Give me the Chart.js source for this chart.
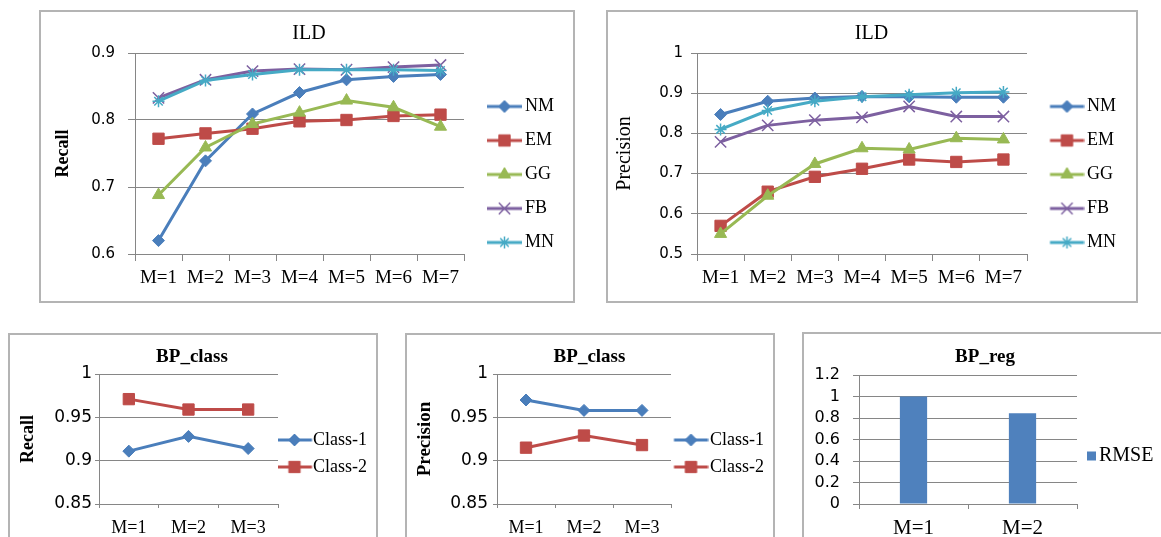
<!DOCTYPE html>
<html>
<head>
<meta charset="utf-8">
<title>ILD / BP results</title>
<script src="https://cdn.jsdelivr.net/npm/chart.js@4.4.1/dist/chart.umd.min.js"></script>
<style>
  html, body { margin: 0; padding: 0; background: #fff; overflow: hidden; }
  body { width: 1161px; height: 537px; position: relative; }
  .frame { position: absolute; box-sizing: border-box; border: 2px solid #b4b4b4; }
  canvas { position: absolute; }
</style>
</head>
<body>
<div class="frame" style="left:39px;top:10px;width:536px;height:293px"></div>
<div class="frame" style="left:606px;top:10px;width:532px;height:293px"></div>
<div class="frame" style="left:8px;top:333px;width:370px;height:240px"></div>
<div class="frame" style="left:405px;top:333px;width:370px;height:240px"></div>
<div class="frame" style="left:802px;top:332px;width:367px;height:240px"></div>

<canvas id="ildRecall" style="left:39px;top:10px" width="540" height="329"></canvas>
<canvas id="ildPrecision" style="left:606px;top:10px" width="531" height="329"></canvas>
<canvas id="bpRecall" style="left:8px;top:333px" width="368" height="241"></canvas>
<canvas id="bpPrecision" style="left:405px;top:333px" width="369" height="241"></canvas>
<canvas id="bpReg" style="left:802px;top:332px" width="366" height="248"></canvas>

<script>
// ---- data ----
const ildLabels = ['M=1', 'M=2', 'M=3', 'M=4', 'M=5', 'M=6', 'M=7'];
const ildSeries = ['NM', 'EM', 'GG', 'FB', 'MN'];

const recallNM = [0.620, 0.739, 0.809, 0.841, 0.860, 0.865, 0.868];
const recallEM = [0.772, 0.780, 0.787, 0.798, 0.800, 0.806, 0.808];
const recallGG = [0.688, 0.759, 0.794, 0.811, 0.829, 0.819, 0.790];
const recallFB = [0.833, 0.860, 0.873, 0.876, 0.875, 0.879, 0.882];
const recallMN = [0.828, 0.859, 0.868, 0.875, 0.875, 0.875, 0.874];

const precNM = [0.847, 0.880, 0.888, 0.892, 0.891, 0.890, 0.890];
const precEM = [0.570, 0.655, 0.692, 0.712, 0.735, 0.729, 0.735];
const precGG = [0.550, 0.645, 0.724, 0.763, 0.760, 0.788, 0.785];
const precFB = [0.779, 0.820, 0.833, 0.840, 0.867, 0.842, 0.842];
const precMN = [0.810, 0.857, 0.880, 0.891, 0.896, 0.901, 0.903];

const bpLabels = ['M=1', 'M=2', 'M=3'];
const bpSeries = ['Class-1', 'Class-2'];
const bpRecall1 = [0.911, 0.928, 0.914];
const bpRecall2 = [0.971, 0.959, 0.959];
const bpPrec1 = [0.970, 0.958, 0.958];
const bpPrec2 = [0.915, 0.929, 0.918];

const regLabels = ['M=1', 'M=2'];
const rmse = [1.0, 0.845];

// ---- look ----
const serif = '"Liberation Serif", "Times New Roman", serif';
const sans = '"DejaVu Sans", "Liberation Sans", sans-serif';
const gridColor = '#868686';

const look = {
  'NM':      { color: '#4a7ebb', style: 'rectRot',  radius: 6, bw: 1 },
  'EM':      { color: '#be4b48', style: 'rect',     radius: 8, bw: 1 },
  'GG':      { color: '#98b954', style: 'triangle', radius: 7, bw: 1 },
  'FB':      { color: '#7d60a0', style: 'crossRot', radius: 8, bw: 1.5 },
  'MN':      { color: '#46aac5', style: 'star',     radius: 6, bw: 1.5 },
  'Class-1': { color: '#4a7ebb', style: 'rectRot',  radius: 6, bw: 1 },
  'Class-2': { color: '#be4b48', style: 'rect',     radius: 8, bw: 1 }
};

Chart.defaults.color = '#000';
Chart.defaults.animation = false;

// Chart.js sizes the legend from its text; pin its width so the plot area
// ends up where the original one is
const pinLegend = {
  id: 'pinLegend',
  beforeLayout(chart, args, opts) {
    const lg = chart.legend;
    if (!lg || lg._pinned) return;
    const fit = lg.fit;
    lg.fit = function () { fit.call(this); this.width = opts.width; };
    lg._pinned = true;
  }
};

// excel style legend key: a short line with the marker on it (or a small box)
// from/to are measured from the start of the legend item, pw is pointStyleWidth
function legendIcon(s, from, to, pw, box) {
  const c = pw / 2;
  const h = Math.ceil(Math.max(c - from, to - c));
  const cv = document.createElement('canvas');
  cv.width = 2 * h;
  cv.height = 24;
  const ctx = cv.getContext('2d');
  const x0 = from - c + h, x1 = to - c + h;
  ctx.fillStyle = s.color;
  ctx.strokeStyle = s.color;
  if (box) {
    ctx.fillRect(x0, 12 - (x1 - x0) / 2, x1 - x0, x1 - x0);
    return cv;
  }
  ctx.lineWidth = 3;
  ctx.beginPath();
  ctx.moveTo(x0, 12);
  ctx.lineTo(x1, 12);
  ctx.stroke();
  ctx.lineWidth = s.bw;
  Chart.helpers.drawPoint(ctx, { pointStyle: s.style, radius: s.radius, borderWidth: s.bw, rotation: 0 }, (x0 + x1) / 2, 12);
  return cv;
}

function makeChart(id, type, labels, series, p) {
  const datasets = series.map((s, i) => {
    const st = s.look;
    return {
      label: s.name,
      data: s.data,
      order: series.length - i,
      borderColor: st.color,
      backgroundColor: st.color,
      borderWidth: type === 'line' ? 3 : 0,
      tension: 0,
      pointStyle: st.style,
      pointRadius: st.radius,
      pointBorderWidth: st.bw,
      pointBackgroundColor: st.color,
      pointBorderColor: st.color,
      barPercentage: 0.25,
      categoryPercentage: 1
    };
  });
  const icons = series.map(s => legendIcon(s.look, p.legend.from, p.legend.to, p.legend.pw, type === 'bar'));

  return new Chart(document.getElementById(id), {
    type: type,
    data: { labels: labels, datasets: datasets },
    plugins: [pinLegend],
    options: {
      responsive: false,
      devicePixelRatio: 1,
      events: [],
      layout: { padding: 0 },
      plugins: {
        pinLegend: { width: p.legend.width },
        tooltip: { enabled: false },
        title: {
          display: true,
          text: p.title.text,
          color: '#000',
          font: { family: serif, size: p.title.size, weight: p.title.weight },
          padding: { top: p.title.top, bottom: p.title.bottom }
        },
        legend: {
          position: 'right',
          labels: {
            usePointStyle: true,
            pointStyleWidth: p.legend.pw,
            padding: p.legend.padding,
            color: '#000',
            font: { family: serif, size: p.legend.size },
            generateLabels: chart => chart.data.datasets.map((ds, i) => ({
              text: ds.label,
              pointStyle: icons[i],
              datasetIndex: i,
              fontColor: '#000',
              hidden: false,
              lineWidth: 0,
              fillStyle: ds.borderColor,
              strokeStyle: ds.borderColor
            }))
          }
        }
      },
      scales: {
        x: {
          offset: true,
          grid: { display: true, drawOnChartArea: false, offset: true, color: gridColor, tickLength: p.x.tickLen },
          border: { display: true, color: gridColor, width: 1 },
          ticks: { autoSkip: false, maxRotation: 0, padding: p.x.pad, color: '#000', font: { family: serif, size: p.x.size } },
          afterFit: s => { s.height = p.x.height; }
        },
        y: {
          min: p.y.min,
          max: p.y.max,
          grid: { color: gridColor, tickLength: p.y.tickLen },
          border: { display: true, color: gridColor, width: 1 },
          ticks: {
            stepSize: p.y.step,
            autoSkip: false,
            padding: p.y.tickPad,
            color: '#000',
            font: { family: sans, size: p.y.size },
            callback: v => String(+v.toFixed(2))
          },
          title: {
            display: !!p.y.title,
            text: p.y.title,
            color: '#000',
            font: { family: serif, size: p.y.titleSize, weight: p.y.titleWeight },
            padding: { top: p.y.titlePad, bottom: 0 }
          },
          afterFit: s => { s.width = p.y.width; }
        }
      }
    }
  });
}

const ildTitle = { text: 'ILD', size: 20, weight: 'normal', top: 11.5, bottom: 7.5 };
const ildX = { height: 85, tickLen: 7, pad: 5.6, size: 19 };
const bpTitle = { text: 'BP_class', size: 19, weight: 'bold', top: 12.6, bottom: 5.6 };
const bpX = { height: 70, tickLen: 4, pad: 9.2, size: 18 };

const pick = (names, arrays) => names.map((n, i) => ({ name: n, data: arrays[i], look: look[n] }));

makeChart('ildRecall', 'line', ildLabels,
  pick(ildSeries, [recallNM, recallEM, recallGG, recallFB, recallMN]), {
    title: ildTitle,
    x: ildX,
    y: { min: 0.6, max: 0.9, step: 0.1, width: 96, tickLen: 7, tickPad: 13, size: 15,
         title: 'Recall', titleSize: 18, titleWeight: 'bold', titlePad: 13.2 },
    legend: { width: 115, padding: 16, pw: 36, from: 7, to: 42, size: 18 }
  });

makeChart('ildPrecision', 'line', ildLabels,
  pick(ildSeries, [precNM, precEM, precGG, precFB, precMN]), {
    title: ildTitle,
    x: ildX,
    y: { min: 0.5, max: 1, step: 0.1, width: 91, tickLen: 6, tickPad: 8, size: 15,
         title: 'Precision', titleSize: 20, titleWeight: 'normal', titlePad: 7 },
    legend: { width: 110, padding: 16, pw: 35, from: 7, to: 41, size: 18 }
  });

makeChart('bpRecall', 'line', bpLabels,
  pick(bpSeries, [bpRecall1, bpRecall2]), {
    title: bpTitle,
    x: bpX,
    y: { min: 0.85, max: 1, step: 0.05, width: 91, tickLen: 4, tickPad: 3, size: 17,
         title: 'Recall', titleSize: 18, titleWeight: 'bold', titlePad: 9.2 },
    legend: { width: 98, padding: 9, pw: 17, from: -10, to: 25, size: 18 }
  });

makeChart('bpPrecision', 'line', bpLabels,
  pick(bpSeries, [bpPrec1, bpPrec2]), {
    title: bpTitle,
    x: bpX,
    y: { min: 0.85, max: 1, step: 0.05, width: 92, tickLen: 4, tickPad: 5, size: 17,
         title: 'Precision', titleSize: 19, titleWeight: 'bold', titlePad: 8.6 },
    legend: { width: 103, padding: 9, pw: 21, from: -6, to: 28, size: 18 }
  });

makeChart('bpReg', 'bar', regLabels,
  [{ name: 'RMSE', data: rmse, look: { color: '#4f81bd', style: 'rect', radius: 6, bw: 0 } }], {
    title: { text: 'BP_reg', size: 19, weight: 'bold', top: 13.6, bottom: 6.6 },
    x: { height: 76, tickLen: 5, pad: 6.4, size: 21 },
    y: { min: 0, max: 1.2, step: 0.2, width: 57, tickLen: 6, tickPad: 13, size: 16, title: '' },
    legend: { width: 91, padding: 10, pw: 2, from: 0, to: 9, size: 20 }
  });
</script>
</body>
</html>
